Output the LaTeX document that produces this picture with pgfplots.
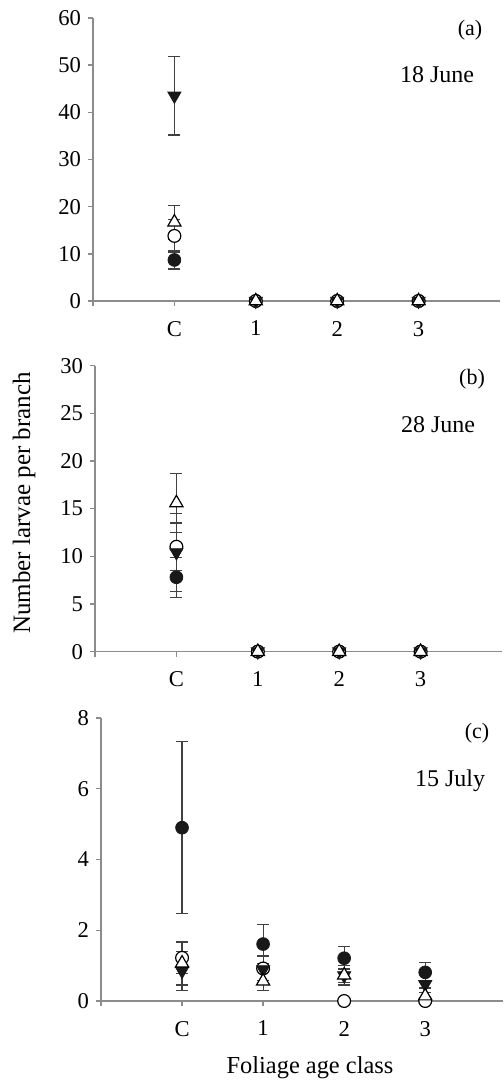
\documentclass[border=0pt]{standalone}
\usepackage{fontspec}
\setmainfont{Liberation Serif}
\usepackage{pgfplots}
\pgfplotsset{compat=1.18}
\definecolor{axgray}{gray}{0.55}
\definecolor{ebar}{gray}{0.25}
\pgfplotsset{
  panel/.style={
    scale only axis, width=203.5pt, height=141.5pt,
    xmin=0, xmax=5, ymin=0,
    axis x line=bottom, axis y line=left,
    axis line style={axgray, line width=0.7pt, -},
    tick style={axgray, line width=0.7pt},
    tick align=outside,
    major tick length=2.5pt,
    xtick={0,1,2,3,4}, xticklabels={,C,1,2,3},
    xticklabel style={yshift=-4pt},
    ticklabel style={font=\fontsize{11.3}{13}\selectfont, text=black},
    /pgf/number format/assume math mode=true,
    clip=false,
  },
  ebars/.style={error bars/.cd, y dir=both, y explicit,
    error bar style={ebar, line width=0.6pt},
    error mark options={rotate=90, mark size=3pt, ebar, line width=0.6pt}},
  fcirc/.style={only marks, mark=*, mark size=3.2pt, mark options={fill=black!90, draw=black!90}, ebars},
  ocirc/.style={only marks, mark=*, mark size=3.2pt, mark options={fill=white, draw=black, line width=0.6pt}, ebars},
  ftri/.style={only marks, mark=triangle*, mark size=3.8pt, mark options={rotate=180, fill=black!90, draw=black!90}, ebars},
  otri/.style={only marks, mark=triangle*, mark size=3.8pt, mark options={fill=white, draw=black, line width=0.6pt}, ebars},
}
\newcommand{\lab}{\fontsize{11}{13}\selectfont}
\newcommand{\bigf}{\fontsize{12}{14}\selectfont}
\begin{document}
\begin{tikzpicture}
\useasboundingbox (0,0) rectangle (251.5pt,-540pt);
% ---------- panel (a)
\begin{axis}[panel, at={(46.5pt,-150.5pt)}, anchor=south west,
  ymax=60, ytick={0,10,...,60}]
\addplot+[fcirc] coordinates {(1,8.7) +- (0,1.9) (2,0) +- (0,0) (3,0) +- (0,0) (4,0) +- (0,0)};
\addplot+[ocirc] coordinates {(1,13.8) +- (0,3.4) (2,0) +- (0,0) (3,0) +- (0,0) (4,0) +- (0,0)};
\addplot+[ftri]  coordinates {(1,43.5) +- (0,8.3) (2,0) +- (0,0) (3,0) +- (0,0) (4,0) +- (0,0)};
\addplot+[otri]  coordinates {(1,16.7) +- (0,3.6) (2,0) +- (0,0) (3,0) +- (0,0) (4,0) +- (0,0)};
\end{axis}
% ---------- panel (b)
\begin{axis}[panel, at={(47.5pt,-325.8pt)}, anchor=south west, height=143pt,
  ymax=30, ytick={0,5,...,30}]
\addplot+[fcirc] coordinates {(1,7.8) +- (0,2.1) (2,0) +- (0,0) (3,0) +- (0,0) (4,0) +- (0,0)};
\addplot+[ocirc] coordinates {(1,11.0) +- (0,2.5) (2,0) +- (0,0) (3,0) +- (0,0) (4,0) +- (0,0)};
\addplot+[ftri]  coordinates {(1,10.4) +- (0,4.1) (2,0) +- (0,0) (3,0) +- (0,0) (4,0) +- (0,0)};
\addplot+[otri]  coordinates {(1,15.6) +- (0,3.1) (2,0) +- (0,0) (3,0) +- (0,0) (4,0) +- (0,0)};
\end{axis}
% ---------- panel (c)
\begin{axis}[panel, at={(50.5pt,-500.5pt)}, anchor=south west, width=201pt, xmax=4.96,
  ymax=8, ytick={0,2,...,8}]
\addplot+[fcirc] coordinates {(1,4.9) +- (0,2.43) (2,1.61) +- (0,0.56) (3,1.21) +- (0,0.32) (4,0.81) +- (0,0.28)};
\addplot+[ocirc] coordinates {(1,1.22) +- (0,0.45) (2,0.92) +- (0,0.35) (3,0) +- (0,0) (4,0) +- (0,0)};
\addplot+[ftri]  coordinates {(1,0.85) +- (0,0.55) (2,0.89) +- (0,0.38) (3,0.72) +- (0,0.2) (4,0.47) +- (0,0.1)};
\addplot+[otri]  coordinates {(1,1.07) +- (0,0.62) (2,0.56) +- (0,0.27) (3,0.73) +- (0,0.28) (4,0.14) +- (0,0.1)};
\end{axis}
% ---------- texts
\node[font=\lab] at (235pt,-15pt) {(a)};
\node[font=\bigf] at (218.5pt,-37.5pt) {18 June};
\node[font=\lab] at (236pt,-189.5pt) {(b)};
\node[font=\bigf] at (219pt,-212.5pt) {28 June};
\node[font=\lab] at (238.5pt,-366.5pt) {(c)};
\node[font=\bigf] at (225pt,-390.5pt) {15 July};
\node[font=\fontsize{12.5}{15}\selectfont, rotate=90] at (12pt,-251.5pt) {Number larvae per branch};
\node[font=\fontsize{12.2}{15}\selectfont] at (155pt,-534pt) {Foliage age class};
\end{tikzpicture}
\end{document}
